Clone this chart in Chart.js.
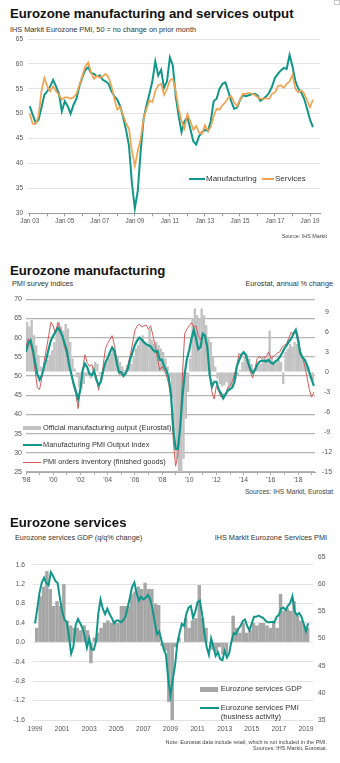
<!DOCTYPE html>
<html>
<head>
<meta charset="utf-8">
<script src="https://cdn.jsdelivr.net/npm/chart.js@4.4.1/dist/chart.umd.min.js"></script>
<style>
  body { margin: 0; background: #fff; font-family: Arial, "Liberation Sans", sans-serif; }
  #page { position: relative; width: 340px; height: 763px; overflow: hidden; }
  .abs { position: absolute; white-space: nowrap; line-height: 1; }
  .title { left: 10px; font-weight: bold; font-size: 13.2px; color: #111; }
  .sub { font-size: 7.3px; color: #333; }
  .src { right: 13px; font-size: 5.4px; color: #444; text-align: right; }
  .key { font-size: 7.6px; color: #333; }
  .swatch { position: absolute; }
  canvas { position: absolute; left: 0; }
</style>
</head>
<body>
<div id="page">
  <div class="abs" style="left:334px;top:0px;width:4px;height:3px;border:1px solid #c8c8c8;"></div>

  <!-- output chart -->
  <div class="abs title" style="top:7px;">Eurozone manufacturing and services output</div>
  <div class="abs sub" style="left:10px;top:25.8px;">IHS Markit Eurozone PMI, 50 = no change on prior month</div>
  <canvas id="output" width="340" height="200" style="top:30px;"></canvas>
  <div class="swatch" style="left:189px;top:178px;width:16px;height:2px;background:#10978a;"></div>
  <div class="abs key" style="left:206px;top:175.3px;font-size:8px;">Manufacturing</div>
  <div class="swatch" style="left:262px;top:178px;width:12px;height:2px;background:#f3a250;"></div>
  <div class="abs key" style="left:275px;top:175.3px;font-size:8px;">Services</div>
  <div class="abs src" style="top:234.4px;">Source: IHS Markit</div>

  <!-- manufacturing chart -->
  <div class="abs title" style="top:263.5px;">Eurozone manufacturing</div>
  <div class="abs sub" style="left:12px;top:279.5px;">PMI survey indices</div>
  <div class="abs sub" style="right:7px;top:279.5px;">Eurostat, annual % change</div>
  <canvas id="manufacturing" width="340" height="200" style="top:288px;"></canvas>
  <div class="swatch" style="left:22.7px;top:425.7px;width:18px;height:4.3px;background:#c2c2c2;"></div>
  <div class="abs key" style="left:43px;top:424.1px;font-size:7.4px;">Official manufacturing output (Eurostat)</div>
  <div class="swatch" style="left:22.7px;top:444px;width:19px;height:2.2px;background:#10978a;"></div>
  <div class="abs key" style="left:43px;top:441.4px;font-size:7.4px;">Manufacturing PMI Output Index</div>
  <div class="swatch" style="left:22.7px;top:462.2px;width:18px;height:1.2px;background:#d65a5a;"></div>
  <div class="abs key" style="left:43px;top:458.4px;font-size:7.4px;">PMI orders inventory (finished goods)</div>
  <div class="abs src" style="right:7px;top:488.8px;font-size:6.7px;">Sources: IHS Markit, Eurostat</div>

  <!-- services chart -->
  <div class="abs title" style="top:515.5px;">Eurozone services</div>
  <div class="abs sub" style="left:15px;top:534.3px;">Eurozone services GDP (q/q% change)</div>
  <div class="abs sub" style="right:13px;top:534.3px;">IHS Markit Eurozone Services PMI</div>
  <canvas id="services" width="340" height="195" style="top:545px;"></canvas>
  <div class="swatch" style="left:200px;top:687.3px;width:18.3px;height:4.4px;background:#a6a6a6;"></div>
  <div class="abs key" style="left:220.7px;top:685.4px;">Eurozone services GDP</div>
  <div class="swatch" style="left:200px;top:706.6px;width:19.3px;height:2.2px;background:#10978a;"></div>
  <div class="abs key" style="left:220.7px;top:703.3px;line-height:9px;">Eurozone services PMI<br>(business activity)</div>
  <div class="abs src" style="top:740.3px;font-size:5.5px;">Note: Eurostat data include retail, which is not included in the PMI.</div>
  <div class="abs src" style="top:745.8px;font-size:5.5px;">Sources: IHS Markit, Eurostat.</div>
</div>

<script>
// Every series below is sampled every two months (Jan, Mar, May, Jul, Sep, Nov)
// except the services GDP bars, which are quarterly.

// Manufacturing output index, from Jan 2003
const manufacturingOutput = [
  51.5, 49.8, 48.2, 48.8, 51.2, 53.8,
  54.5, 55.5, 56.8, 55.5, 54.0, 50.5,
  52.5, 51.5, 50.0, 51.8, 53.0, 55.5,
  57.3, 58.8, 59.3, 58.2, 58.0, 57.5,
  57.7, 56.8, 56.5, 56.0, 54.5, 53.5,
  52.8, 51.5, 49.3, 46.7, 43.5, 36.0,
  31.0, 34.5, 42.5, 49.0, 51.7, 54.0,
  56.5, 60.5, 57.7, 58.8, 55.2, 56.5,
  61.3, 59.7, 53.5, 49.5, 46.3, 48.5,
  49.3, 47.0, 44.5, 43.8, 45.5, 46.3,
  46.8, 46.5, 48.5, 52.5, 53.0, 55.0,
  56.0, 56.3, 54.5, 52.5, 51.0, 51.2,
  52.7, 53.7, 53.5, 53.7, 53.9, 54.0,
  53.7, 52.6, 53.0, 53.5, 54.2, 55.5,
  57.2, 58.0, 58.7, 59.2, 59.0, 61.8,
  59.5, 56.5, 55.0, 54.3, 53.0, 51.0,
  48.8, 47.3
];

// Services business activity index, from Jan 1999
const servicesActivity = [
  52.8, 55.5, 58.5, 60.3, 61.2, 60.2,
  59.8, 62.2, 61.5, 60.6, 60.2, 57.5,
  55.0, 53.5, 53.0, 50.5, 47.2, 48.5,
  52.5, 53.6, 52.8, 51.9, 50.5, 48.3,
  50.0, 48.0, 47.9, 49.5, 54.5, 57.2,
  55.5, 54.5, 55.5, 54.5, 53.8, 52.8,
  53.3, 53.3, 53.0, 53.3, 54.0, 55.7,
  57.5, 59.5, 60.3, 58.3, 57.0, 57.7,
  57.2, 57.5, 58.0, 57.3, 55.5, 53.0,
  50.8, 51.3, 49.7, 48.0, 47.0, 42.5,
  39.5, 42.5, 45.0, 49.0, 51.0, 52.7,
  52.3, 54.5, 55.7, 56.0, 53.8, 55.0,
  56.7, 57.0, 54.5, 51.0, 48.5, 47.0,
  50.0, 48.5, 46.8, 47.5, 46.2, 46.0,
  47.7, 46.5, 47.3, 49.5, 51.0, 50.8,
  51.7, 52.3, 53.2, 53.5, 52.3, 51.5,
  52.8, 54.0, 54.0, 54.2, 54.0, 53.8,
  53.3, 53.0, 53.0, 53.1, 53.0, 54.0,
  54.3, 55.5, 55.7, 55.2, 56.0, 56.5,
  57.8, 55.0, 54.3, 54.7, 54.0, 52.7,
  51.3, 52.8
];

// Manufacturing PMI output index, from Jan 1998
const pmiOutput = [
  56.3, 58.5, 59.3, 57.0, 53.5, 50.5,
  49.0, 50.2, 52.5, 54.5, 57.0, 59.3,
  60.5, 61.5, 62.5, 61.8, 60.5, 58.5,
  56.7, 53.0, 50.5, 48.0, 46.0, 44.0,
  46.5, 51.5, 53.2, 52.3, 50.5, 50.2,
  51.3, 49.1, 47.6, 48.5, 51.2, 53.5,
  54.6, 56.2, 57.4, 56.5, 53.5, 51.0,
  51.0, 50.0, 50.8, 52.0, 54.5, 56.2,
  58.0, 59.2, 60.0, 59.5, 58.8, 58.3,
  58.0, 57.7, 56.8, 56.3, 56.5, 54.2,
  54.2, 52.5, 51.4, 49.5, 45.0, 36.0,
  31.0, 31.0, 36.5, 44.5, 50.5, 54.5,
  56.7, 59.7, 62.0, 59.8, 57.0, 57.5,
  61.0, 60.5, 57.5, 50.4, 47.2, 48.5,
  48.5, 46.5, 45.5, 44.2, 45.2, 46.2,
  46.6, 47.0, 48.5, 52.5, 54.0, 55.5,
  56.2, 55.5, 53.5, 51.8, 50.8, 51.5,
  52.9, 53.7, 54.0, 54.0, 53.8, 54.2,
  53.5, 53.2, 53.8, 54.2, 55.0, 56.0,
  57.2, 58.0, 59.0, 59.7, 61.0, 62.0,
  59.3, 55.9, 54.8, 54.2, 52.8, 50.9,
  49.1, 47.4
];

// PMI new orders to finished goods inventory, from Jan 1998
const ordersInventory = [
  57.6, 59.7, 58.0, 55.9, 51.5, 47.0,
  46.5, 49.5, 53.8, 57.0, 60.5, 64.0,
  63.1, 61.0, 63.9, 62.5, 60.5, 57.5,
  55.5, 53.0, 50.4, 47.5, 45.3, 41.5,
  47.0, 51.7, 55.5, 53.5, 52.5, 53.0,
  51.3, 50.0, 46.3, 49.0, 52.5, 57.0,
  58.5, 59.5, 60.5, 58.0, 54.5, 50.5,
  50.5, 51.0, 50.3, 53.0, 55.5, 58.5,
  61.8, 63.0, 63.5, 62.8, 63.0, 63.3,
  62.2, 63.1, 60.5, 58.0, 54.5, 51.5,
  52.5, 51.5, 50.0, 47.9, 44.0, 33.0,
  26.5, 29.5, 36.0, 50.0, 61.0, 62.2,
  63.1, 63.9, 62.8, 63.0, 60.5, 59.5,
  61.0, 60.0, 56.5, 52.0, 46.0, 44.0,
  47.4, 46.2, 44.5, 45.3, 45.0, 47.0,
  47.4, 48.5, 50.5, 52.5, 55.9, 55.3,
  56.3, 55.0, 53.0, 51.0, 49.5, 51.7,
  54.6, 55.0, 54.6, 54.8, 55.0, 56.3,
  54.6, 55.0, 55.5, 56.0, 56.3, 57.6,
  58.0, 58.4, 60.0, 61.4, 61.0, 62.2,
  60.5, 56.7, 55.0, 52.5, 49.6, 46.5,
  44.5, 45.8
];

// Eurostat manufacturing output, annual % change, from Jan 1998
const officialOutput = [
  7.5, 6.8, 7.8, 5.5, 4.0, 2.5,
  0.8, 0.3, 0.8, 1.8, 2.5, 3.2,
  4.5, 6.5, 7.5, 6.8, 6.2, 7.2,
  6.5, 4.5, 2.0, 0.5, -0.8, -2.3,
  -2.5, -1.8, -0.5, -0.3, -1.0, 0.8,
  1.5, 1.2, -0.3, -0.5, 0.3, 1.5,
  2.0, 2.8, 3.2, 2.5, 2.2, 1.5,
  0.8, 0.3, 1.0, 1.5, 1.2, 2.2,
  3.5, 4.0, 4.8, 5.5, 4.5, 4.2,
  6.5, 4.8, 4.2, 4.5, 4.0, 3.5,
  3.0, 2.0, 0.8, -0.8, -4.0, -9.0,
  -13.0, -15.0, -15.0, -13.0, -7.0, -3.0,
  2.0, 8.0, 9.5, 8.5, 8.0, 9.5,
  8.5, 7.0, 5.0, 4.5, 2.2, 0.8,
  -1.0, -1.8, -2.2, -2.0, -1.5, -2.8,
  -2.2, -1.5, -1.0, -0.5, 0.3, 1.5,
  2.3, 2.5, 2.0, 1.2, 0.5, 0.8,
  1.0, 1.2, 1.8, 2.2, 2.0, 6.2,
  2.5, 1.2, 1.5, 1.8, 1.5, -1.8,
  3.0, 3.5, 4.2, 3.8, 4.5, 4.2,
  3.5, 2.5, 2.0, 1.2, 0.8, -1.0,
  -1.2
];

// Services GDP, q/q % change, quarterly from 1999 Q1
const servicesGdp = [
  0.3, 0.95, 1.15, 1.47,
  1.1, 0.75, 0.85, 0.75,
  1.2, 0.45, 0.35, 0.3,
  0.3, 0.25, 0.35, 0.25,
  -0.43, 0.1, 0.2, 0.3,
  0.4, 0.45, 0.4, 0.45,
  0.4, 0.75, 0.75, 0.75,
  1.0, 1.05, 1.15, 1.1,
  1.23, 1.1, 1.1, 0.8,
  0.77, -0.07, -0.17, -1.23,
  -1.6, -0.1, 0.1, 0.0,
  0.5, 0.3, 0.45, 0.5,
  1.18, 0.5, 0.3, 0.0,
  -0.15, -0.2, -0.1, -0.25,
  -0.25, 0.0, 0.55, 0.3,
  0.2, 0.4, 0.2, 0.25,
  0.4, 0.35, 0.4, 0.4,
  0.35, 0.3, 0.4, 0.3,
  1.0, 0.65, 0.7, 0.65,
  0.85, 0.55, 0.45, 0.35,
  0.3
];

// axis ticks and labels
const outputTickYears = [2003, 2004, 2005, 2006, 2007, 2008, 2009, 2010, 2011, 2012, 2013, 2014, 2015, 2016, 2017, 2018, 2019];
const outputLabelYears = [2003, 2005, 2007, 2009, 2011, 2013, 2015, 2017, 2019];
const outputLabels = ['Jan 03', 'Jan 05', 'Jan 07', 'Jan 09', 'Jan 11', 'Jan 13', 'Jan 15', 'Jan 17', 'Jan 19'];
const outputYTicks = [30, 35, 40, 45, 50, 55, 60, 65];

const manufTickYears = [1998, 1999, 2000, 2001, 2002, 2003, 2004, 2005, 2006, 2007, 2008, 2009, 2010, 2011, 2012, 2013, 2014, 2015, 2016, 2017, 2018, 2019];
const manufLabelYears = [1998, 2000, 2002, 2004, 2006, 2008, 2010, 2012, 2014, 2016, 2018];
const manufLabels = ["'98", "'00", "'02", "'04", "'06", "'08", "'10", "'12", "'14", "'16", "'18"];
const manufLeftTicks = [25, 30, 35, 40, 45, 50, 55, 60, 65, 70];
const manufRightTicks = [-15, -12, -9, -6, -3, 0, 3, 6, 9];

const servicesLabelYears = [1999, 2001, 2003, 2005, 2007, 2009, 2011, 2013, 2015, 2017, 2019];
const servicesLabels = ['1999', '2001', '2003', '2005', '2007', '2009', '2011', '2013', '2015', '2017', '2019'];
const gdpTicks = [-1.6, -1.2, -0.8, -0.4, 0, 0.4, 0.8, 1.2, 1.6];
const pmiTicks = [35, 40, 45, 50, 55, 60, 65];

const TEAL = '#10978a';
const ORANGE = '#f3a250';
const RED = '#d65a5a';

Chart.defaults.font.family = 'Arial, "Liberation Sans", sans-serif';
Chart.defaults.color = '#555';
Chart.defaults.plugins.legend.display = false;
Chart.defaults.plugins.tooltip.enabled = false;
Chart.defaults.elements.point.radius = 0;
Chart.defaults.elements.line.tension = 0;

// values -> {x, y} with x in decimal years
function toPoints(values, firstYear, perYear, shift)
{
  return values.map((v, i) => ({ x: firstYear + (i + shift) / perYear, y: v }));
}

function fixTicks(list)
{
  return function (scale) { scale.ticks = list.map(v => ({ value: v })); };
}

function labelFor(years, labels)
{
  return function (value) {
    let i = years.indexOf(Math.round(value));
    return i >= 0 ? labels[i] : '';
  };
}

// Eurozone manufacturing and services output
new Chart(document.getElementById('output'), {
  type: 'line',
  data: {
    datasets: [{
      label: 'Services',
      data: toPoints(servicesActivity, 1999, 6, 0).filter(p => p.x >= 2002.999),
      borderColor: ORANGE,
      borderWidth: 1.7,
      order: 1
    }, {
      label: 'Manufacturing',
      data: toPoints(manufacturingOutput, 2003, 6, 0),
      borderColor: TEAL,
      borderWidth: 2,
      order: 2
    }]
  },
  options: {
    responsive: false,
    animation: false,
    devicePixelRatio: 1,
    layout: { padding: { top: 9, right: 20, left: 0, bottom: 0 } },
    scales: {
      x: {
        type: 'linear',
        min: 2002.9,
        max: 2019.57,
        afterBuildTicks: fixTicks(outputTickYears),
        afterFit: function (scale) { scale.height = 16.7; },
        grid: { drawOnChartArea: false, tickLength: 3, color: '#9a9a9a' },
        border: { color: '#9a9a9a' },
        ticks: { autoSkip: false, maxRotation: 0, padding: 1, font: { size: 6.3 }, color: '#555',
                 callback: labelFor(outputLabelYears, outputLabels) }
      },
      y: {
        min: 30,
        max: 65,
        afterBuildTicks: fixTicks(outputYTicks),
        afterFit: function (scale) { scale.width = 28; },
        grid: { color: '#e4e4e4', drawTicks: false },
        border: { display: false },
        ticks: { padding: 5, font: { size: 6.5 }, color: '#555' }
      }
    }
  }
});

// Eurozone manufacturing
new Chart(document.getElementById('manufacturing'), {
  type: 'bar',
  data: {
    datasets: [{
      type: 'line',
      label: 'Manufacturing PMI Output Index',
      data: toPoints(pmiOutput, 1998, 6, 0),
      borderColor: TEAL,
      borderWidth: 2.2,
      yAxisID: 'y',
      order: 1
    }, {
      type: 'line',
      label: 'PMI orders inventory (finished goods)',
      data: toPoints(ordersInventory, 1998, 6, 0),
      borderColor: RED,
      borderWidth: 1,
      yAxisID: 'y',
      order: 2
    }, {
      type: 'bar',
      label: 'Official manufacturing output (Eurostat)',
      data: toPoints(officialOutput, 1998, 6, 0.5),
      backgroundColor: '#c2c2c2',
      barPercentage: 1.05,
      categoryPercentage: 1,
      yAxisID: 'y1',
      order: 3
    }]
  },
  options: {
    responsive: false,
    animation: false,
    devicePixelRatio: 1,
    layout: { padding: { top: 6, right: 0, left: 0, bottom: 0 } },
    scales: {
      x: {
        type: 'linear',
        min: 1998,
        max: 2019.25,
        offset: false,
        afterBuildTicks: fixTicks(manufTickYears),
        afterFit: function (scale) { scale.height = 16; },
        grid: { offset: false, drawOnChartArea: false, tickLength: 3, color: '#aaa' },
        border: { color: '#aaa' },
        ticks: { autoSkip: false, maxRotation: 0, padding: 1, font: { size: 6.8 }, color: '#555',
                 callback: labelFor(manufLabelYears, manufLabels) }
      },
      y: {
        position: 'left',
        min: 25,
        max: 70,
        afterBuildTicks: fixTicks(manufLeftTicks),
        afterFit: function (scale) { scale.width = 26; },
        grid: { color: '#b4b4b4', lineWidth: 1.2, drawTicks: false },
        border: { display: false },
        ticks: { padding: 4, font: { size: 7 }, color: '#555' }
      },
      y1: {
        position: 'right',
        min: -15,
        max: 10.9,
        afterBuildTicks: fixTicks(manufRightTicks),
        afterFit: function (scale) { scale.width = 25; },
        grid: { drawOnChartArea: false, drawTicks: false },
        border: { display: false },
        ticks: { crossAlign: 'center', padding: 7, font: { size: 7 }, color: '#555' }
      }
    }
  }
});

// Eurozone services
new Chart(document.getElementById('services'), {
  type: 'bar',
  data: {
    datasets: [{
      type: 'line',
      label: 'Eurozone services PMI (business activity)',
      data: toPoints(servicesActivity, 1999, 6, 0),
      borderColor: TEAL,
      borderWidth: 2,
      yAxisID: 'y1',
      order: 1
    }, {
      type: 'bar',
      label: 'Eurozone services GDP',
      data: toPoints(servicesGdp, 1999, 4, 0.5),
      backgroundColor: '#a6a6a6',
      barPercentage: 1.02,
      categoryPercentage: 1,
      yAxisID: 'y',
      order: 2
    }]
  },
  options: {
    responsive: false,
    animation: false,
    devicePixelRatio: 1,
    layout: { padding: { top: 7, right: 0, left: 0, bottom: 0 } },
    scales: {
      x: {
        type: 'linear',
        min: 1998.85,
        max: 2019.52,
        offset: false,
        afterBuildTicks: fixTicks(servicesLabelYears),
        afterFit: function (scale) { scale.height = 20; },
        grid: { display: false, drawTicks: false, offset: false },
        border: { display: false },
        ticks: { autoSkip: false, maxRotation: 0, padding: 5, font: { size: 6.7 }, color: '#555',
                 callback: labelFor(servicesLabelYears, servicesLabels) }
      },
      y: {
        position: 'left',
        min: -1.6,
        max: 1.76,
        afterBuildTicks: fixTicks(gdpTicks),
        afterFit: function (scale) { scale.width = 33; },
        grid: { color: '#e2e2e2', drawTicks: false },
        border: { display: false },
        ticks: { padding: 8, font: { size: 6.7 }, color: '#555',
                 callback: function (value) { return value.toFixed(1); } }
      },
      y1: {
        position: 'right',
        min: 35,
        max: 65,
        afterBuildTicks: fixTicks(pmiTicks),
        afterFit: function (scale) { scale.width = 27; },
        grid: { drawOnChartArea: false, drawTicks: false },
        border: { display: false },
        ticks: { padding: 5, font: { size: 6.7 }, color: '#555' }
      }
    }
  }
});
</script>
</body>
</html>
